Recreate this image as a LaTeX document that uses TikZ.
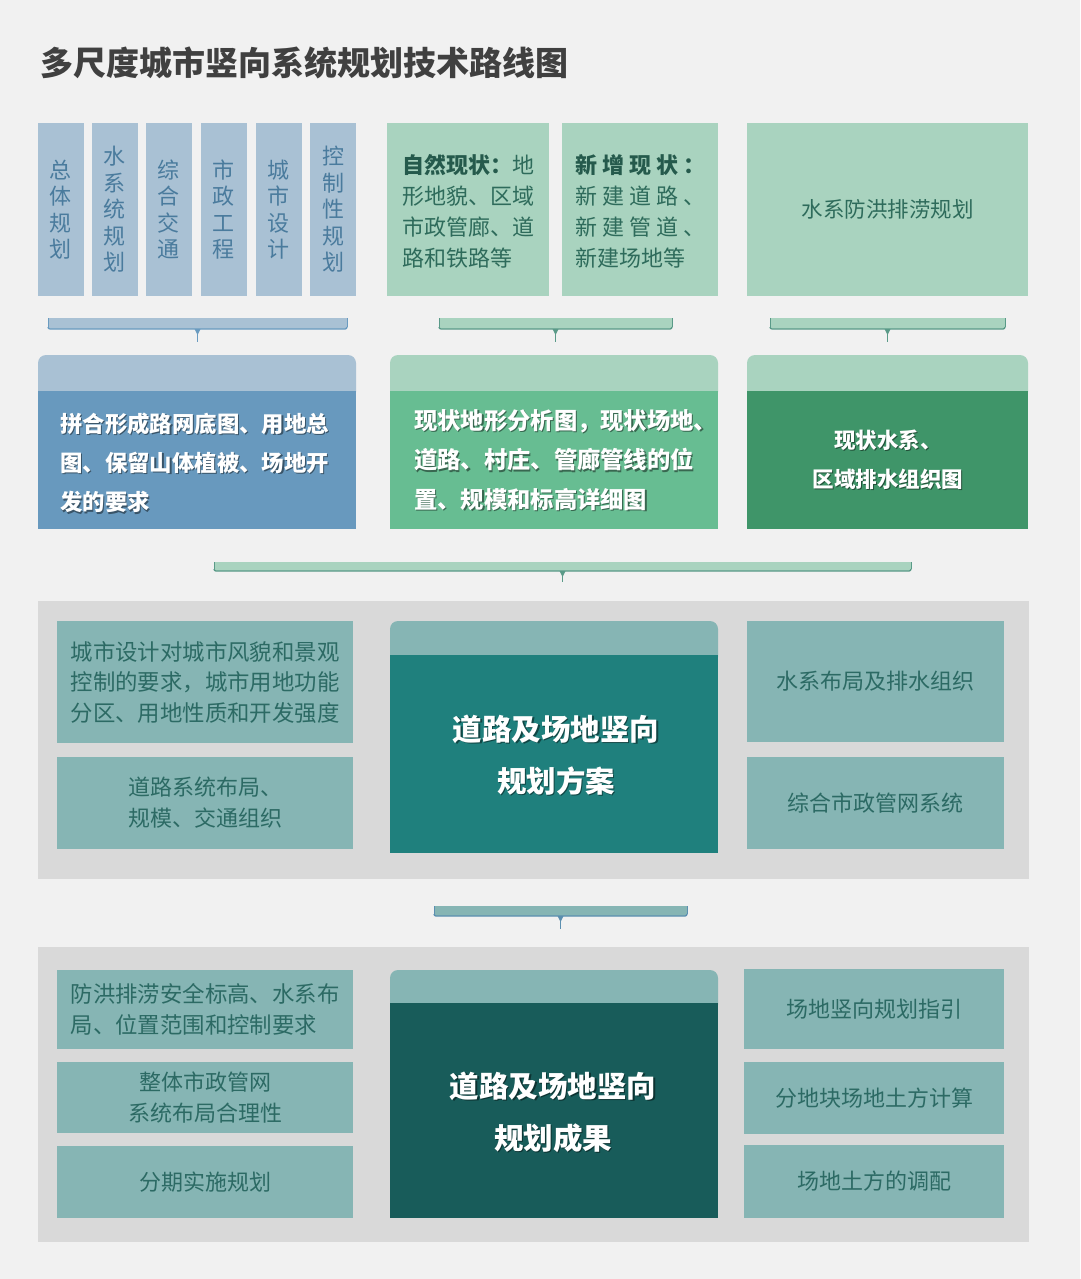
\documentclass[tikz,border=0pt]{standalone}
\usepackage{fontspec}
\setmainfont{Noto Sans CJK SC}
\definecolor{bgc}{HTML}{F1F1F1}
\definecolor{titlec}{HTML}{404040}
\definecolor{blueL}{HTML}{A9C1D4}
\definecolor{blueT}{HTML}{4A7B9D}
\definecolor{blueB}{HTML}{6899BE}
\definecolor{blueS}{HTML}{6A9BC0}
\definecolor{greenL}{HTML}{A9D3BF}
\definecolor{greenT}{HTML}{2E6B5B}
\definecolor{greenTD}{HTML}{255A4C}
\definecolor{greenB}{HTML}{67BD92}
\definecolor{greenD}{HTML}{3F9569}
\definecolor{greenS}{HTML}{5A9A88}
\definecolor{panelc}{HTML}{D9D9D9}
\definecolor{tealL}{HTML}{86B5B4}
\definecolor{tealT}{HTML}{2C6A64}
\definecolor{tealB}{HTML}{1F807D}
\definecolor{tealD}{HTML}{185C5A}
\definecolor{tealS}{HTML}{5B8FB0}
\newcommand\drawbrk[7]{%
  \fill[#6] (#1,#3) -- (#2,#3) -- (#2,#4-2) to[out=-90,in=0] (#2-2,#4) -- (#1+2,#4) to[out=180,in=-90] (#1,#4-2) -- cycle;
  \draw[#7,line width=0.6] (#1,#3) -- (#1,#4-2);
  \draw[#7,line width=0.6] (#2,#3) -- (#2,#4-2);
  \draw[#7,line width=1.3] (#1,#4-2) to[out=-90,in=180] (#1+2,#4) -- (#2-2,#4) to[out=0,in=-90] (#2,#4-2);
  \coordinate (tk) at ({(#1+#2)/2},#4);
  \fill[#7] ([xshift=-3]tk) -- ([xshift=3]tk) -- ([yshift=-6]tk) -- cycle;
  \draw[#7,line width=1.4] (tk) -- ({(#1+#2)/2},#5);
}
\tikzset{
  box/.style={inner sep=0pt, outer sep=0pt},
  vcol/.style={box, fill=blueL, text=blueT, minimum width=46, minimum height=173,
    align=center, font=\fontsize{22}{26.5}\selectfont},
  gtop/.style={box, fill=greenL, minimum height=173},
  gtext/.style={text=greenT, inner sep=0pt, font=\fontsize{22}{31}\selectfont},
  wtext/.style={text=white, inner sep=0pt, font=\fontsize{22.4}{39.2}\selectfont\bfseries},
  wshadow/.style={text=black, opacity=0.45, inner sep=0pt, font=\fontsize{22.4}{39.2}\selectfont\bfseries},
  tbox/.style={box, fill=tealL, text=tealT, align=center, font=\fontsize{22}{31}\selectfont},
  bigtext/.style={text=white, inner sep=0pt, align=center, font=\fontsize{29.5}{52}\selectfont\bfseries},
  bigshadow/.style={text=black, opacity=0.45, inner sep=0pt, align=center, font=\fontsize{29.5}{52}\selectfont\bfseries},
}
\begin{document}
\begin{tikzpicture}[x=1pt,y=-1pt]
\useasboundingbox (0,0) rectangle (1080,1279);
\fill[bgc] (0,0) rectangle (1080,1279);

% title
\node[anchor=west, inner sep=0pt, text=titlec, font=\fontsize{33}{33}\selectfont\bfseries] (title) at (40,63) {多尺度城市竖向系统规划技术路线图};

% top row: vertical columns
\node[vcol] (c1) at (60.5,209.5) {总\\体\\规\\划};
\node[vcol] (c2) at (114.5,209.5) {水\\系\\统\\规\\划};
\node[vcol] (c3) at (168.5,209.5) {综\\合\\交\\通};
\node[vcol] (c4) at (223.5,209.5) {市\\政\\工\\程};
\node[vcol] (c5) at (278.5,209.5) {城\\市\\设\\计};
\node[vcol] (c6) at (333,209.5) {控\\制\\性\\规\\划};

% top row: green boxes
\node[gtop, minimum width=162] (ga) at (468,209.5) {};
\node[gtext, anchor=west, align=left] (gat) at (402,211) {{\bfseries\color{greenTD}自然现状：}地\\形地貌、区域\\市政管廊、道\\路和铁路等};
\node[gtop, minimum width=156] (gb) at (640,209.5) {};
\node[gtext, anchor=west, align=left] (gbt) at (575,211) {\hbox to 130pt{\bfseries\color{greenTD}新\hfil 增\hfil 现\hfil 状\hfil ：}\\\hbox to 130pt{新\hfil 建\hfil 道\hfil 路\hfil 、}\\\hbox to 130pt{新\hfil 建\hfil 管\hfil 道\hfil 、}\\新建场地等};
\node[gtop, minimum width=281, text=greenT, font=\fontsize{21.5}{31}\selectfont] (gc) at (887.5,209.5) {水系防洪排涝规划};

% brackets row 1
\drawbrk{48}{347}{318}{329}{342}{blueL}{blueS}
\drawbrk{439}{672}{318}{329}{342}{greenL}{greenS}
\drawbrk{770}{1005}{318}{329}{342}{greenL}{greenS}

% second row
\fill[blueL, rounded corners=8] (38,355) rectangle (356,400);
\node[box, anchor=north west, fill=blueB, minimum width=318, minimum height=138] (r1) at (38,391) {};
\node[wshadow, anchor=west, align=left] at (61.2,464.2) {拼合形成路网底图、用地总\\图、保留山体植被、场地开\\发的要求};
\node[wtext, anchor=west, align=left] (r1t) at (60,463) {拼合形成路网底图、用地总\\图、保留山体植被、场地开\\发的要求};

\fill[greenL, rounded corners=8] (390,355) rectangle (718,400);
\node[box, anchor=north west, fill=greenB, minimum width=328, minimum height=138] (r2) at (390,391) {};
\node[wshadow, anchor=west, align=left, font=\fontsize{23.3}{39.5}\selectfont\bfseries] at (415.2,461.2) {现状地形分析图，现状场地、\\道路、村庄、管廊管线的位\\置、规模和标高详细图};
\node[wtext, anchor=west, align=left, font=\fontsize{23.3}{39.5}\selectfont\bfseries] (r2t) at (414,460) {现状地形分析图，现状场地、\\道路、村庄、管廊管线的位\\置、规模和标高详细图};

\fill[greenL, rounded corners=8] (747,355) rectangle (1028,400);
\node[box, anchor=north west, fill=greenD, minimum width=281, minimum height=138] (r3) at (747,391) {};
\node[wshadow, align=center, font=\fontsize{21.5}{39}\selectfont\bfseries] at (889.2,461.2) {现状水系、\\区域排水组织图};
\node[wtext, align=center, font=\fontsize{21.5}{39}\selectfont\bfseries] (r3t) at (888,460) {现状水系、\\区域排水组织图};

% bracket 4
\drawbrk{214}{911}{562}{571}{582}{greenL}{greenS}

% middle panel
\fill[panelc] (38,601) rectangle (1029,879);
\node[tbox, anchor=north west, minimum width=296, minimum height=122, font=\fontsize{22.4}{30.5}\selectfont] (m1) at (57,621) {城市设计对城市风貌和景观\\控制的要求，城市用地功能\\分区、用地性质和开发强度};
\node[tbox, anchor=north west, minimum width=296, minimum height=92, align=left] (m2) at (57,757) {道路系统布局、\\规模、交通组织};
\fill[tealL, rounded corners=8] (390,621) rectangle (718,665);
\node[box, anchor=north west, fill=tealB, minimum width=328, minimum height=198] (mc) at (390,655) {};
\node[bigshadow] at (557.3,756.3) {道路及场地竖向\\规划方案};
\node[bigtext] (mct) at (556,755) {道路及场地竖向\\规划方案};
\node[tbox, anchor=north west, minimum width=257, minimum height=121] (m3) at (747,621) {水系布局及排水组织};
\node[tbox, anchor=north west, minimum width=257, minimum height=92] (m4) at (747,757) {综合市政管网系统};

% bracket 5
\drawbrk{434}{687}{906}{916}{929}{tealL}{tealS}

% bottom panel
\fill[panelc] (38,947) rectangle (1029,1242);
\node[tbox, anchor=north west, minimum width=296, minimum height=79, align=left, font=\fontsize{22.4}{31}\selectfont] (b1) at (57,970) {防洪排涝安全标高、水系布\\局、位置范围和控制要求};
\node[tbox, anchor=north west, minimum width=296, minimum height=71] (b2) at (57,1062) {整体市政管网\\系统布局合理性};
\node[tbox, anchor=north west, minimum width=296, minimum height=72] (b3) at (57,1146) {分期实施规划};
\fill[tealL, rounded corners=8] (390,970) rectangle (718,1013);
\node[box, anchor=north west, fill=tealD, minimum width=328, minimum height=215] (bc) at (390,1003) {};
\node[bigshadow] at (554.3,1113.3) {道路及场地竖向\\规划成果};
\node[bigtext] (bct) at (553,1112) {道路及场地竖向\\规划成果};
\node[tbox, anchor=north west, minimum width=260, minimum height=80] (b4) at (744,969) {场地竖向规划指引};
\node[tbox, anchor=north west, minimum width=260, minimum height=72] (b5) at (744,1062) {分地块场地土方计算};
\node[tbox, anchor=north west, minimum width=260, minimum height=73] (b6) at (744,1145) {场地土方的调配};
\end{tikzpicture}
\end{document}
